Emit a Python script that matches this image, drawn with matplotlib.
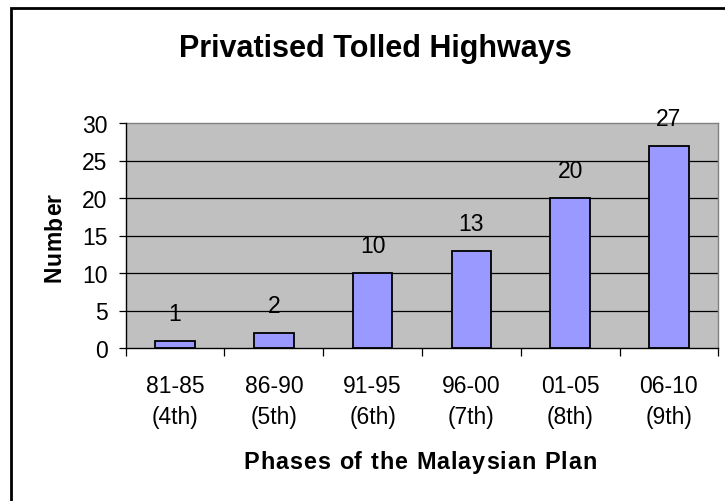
import matplotlib
matplotlib.use("Agg")
import matplotlib.pyplot as plt
import matplotlib.patches as mpatches
import numpy as np

plt.rcParams['font.family'] = ['Liberation Sans', 'DejaVu Sans']

categories = ["81-85\n(4th)", "86-90\n(5th)", "91-95\n(6th)", "96-00\n(7th)", "01-05\n(8th)", "06-10\n(9th)"]
values = [1, 2, 10, 13, 20, 27]
yticks = [0, 5, 10, 15, 20, 25, 30]
title = "Privatised Tolled Highways"
xlabel = "Phases of the Malaysian Plan"
ylabel = "Number"

W, H = 725, 502
fig = plt.figure(figsize=(W/100, H/100), dpi=100)
fig.patch.set_facecolor("white")
renderer = fig.canvas.get_renderer()

ax = fig.add_axes([125.7/W, (H-349)/H, 592.6/W, 225/H])
ax.set_facecolor("#C0C0C0")

x = np.arange(len(values))
ax.bar(x, values, width=0.4, color="#9999FF", edgecolor="black", linewidth=1.3, zorder=3)

ax.set_xlim(-0.5, len(values) - 0.5)
ax.set_ylim(0, 30)
ax.set_yticks(yticks)
ax.set_yticklabels([str(v) for v in yticks], fontsize=16.5)
for v in yticks[1:-1]:
    ax.axhline(v, color="black", linewidth=0.9, zorder=1)

ax.set_xticks(x)
ax.set_xticklabels(categories, fontsize=16.5, linespacing=1.45)
ax.set_xticks(np.arange(len(values) + 1) - 0.5, minor=True)
ax.tick_params(axis="x", which="major", length=0, pad=19)
ax.tick_params(axis="x", which="minor", length=5.5, width=0.9, color="black", direction="out")
ax.tick_params(axis="y", which="major", length=5, width=0.9, color="black", direction="out", pad=8)

for s in ["top", "right"]:
    ax.spines[s].set_color("#808080")
    ax.spines[s].set_linewidth(1.0)
for s in ["left", "bottom"]:
    ax.spines[s].set_color("black")
    ax.spines[s].set_linewidth(1.0)
    ax.spines[s].set_zorder(4)

for xi, v in zip(x, values):
    ax.annotate(str(v), (xi, v), xytext=(0, 27), textcoords="offset pixels",
                ha="center", va="center", fontsize=16.5)


def text_width(s, **kw):
    t = fig.text(0, 0, s, **kw)
    w = t.get_window_extent(renderer).width
    t.remove()
    return w


def tracked_text(s, cx, cy, track, rotation=0, **kw):
    """Draw text with extra letter spacing; (cx, cy) in pixels (from bottom-left):
    centre along the writing direction, baseline position across it."""
    bar_w = text_width("|", **kw)
    pos = [text_width(s[:i] + "|", **kw) - bar_w + i * track for i in range(len(s))]
    total = text_width(s, **kw) + (len(s) - 1) * track
    start = -total / 2
    for ch, p in zip(s, pos):
        if ch == " ":
            continue
        if rotation == 0:
            fig.text((cx + start + p) / W, cy / H, ch, ha="left", va="baseline", **kw)
        else:
            fig.text(cx / W, (cy + start + p) / H, ch, ha="left", va="baseline",
                     rotation=90, rotation_mode="anchor", **kw)


tracked_text(xlabel, 420, H - 469.5, 1.0, fontsize=16.8, fontweight="bold")
tracked_text(ylabel, 61, H - 237.5, 0.4, rotation=90, fontsize=16.5, fontweight="bold")

fig.text(375/W, 1 - 57/H, title, ha="center", va="baseline",
         fontsize=22, fontweight="bold")

border = mpatches.Rectangle((11/W, -0.1), 1.2, (H - 9)/H + 0.1, transform=fig.transFigure,
                            fill=False, edgecolor="black", linewidth=2.0, clip_on=False)
fig.patches.append(border)

fig.savefig("out.png", dpi=100)
